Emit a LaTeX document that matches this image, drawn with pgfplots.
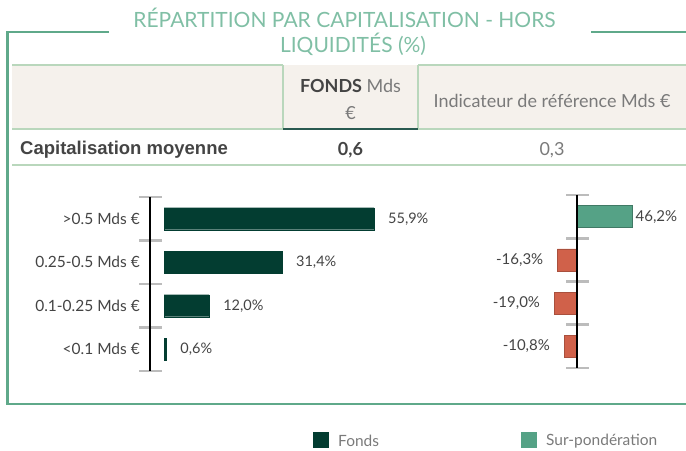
\documentclass[border=0pt]{standalone}
\usepackage{pgfplots}
\pgfplotsset{compat=1.18}
\usepackage{fontspec}
\setmainfont{Lato}
\newfontfamily\arialf{Liberation Sans}
\definecolor{framec}{HTML}{5FA98A}
\definecolor{titlec}{HTML}{80BFA5}
\definecolor{hdrbg}{HTML}{F5F1EC}
\definecolor{cellline}{HTML}{B9D7BC}
\definecolor{darkgreen}{HTML}{033D31}
\definecolor{midgreen}{HTML}{55A286}
\definecolor{orangec}{HTML}{D0614A}
\definecolor{orangeb}{HTML}{A9503D}
\definecolor{txt}{HTML}{444444}
\definecolor{lighttxt}{HTML}{7A7A7A}
\definecolor{sepgray}{RGB}{188,188,188}
\pgfplotsset{
  capbar/.style={
    scale only axis, ymin=-0.5, ymax=3.5, y dir=reverse, clip=false,
    axis lines=none,
    /pgf/number format/assume math mode=true,
    xbar, bar width=22bp, bar shift=0pt, point meta=x,
    nodes near coords={\pgfmathprintnumber[fixed,fixed zerofill,precision=1,use comma]{\pgfplotspointmeta}\%},
    every node near coord/.append style={inner sep=0pt, text=txt},
  }
}
\begin{document}
\begin{tikzpicture}[x=1bp,y=1bp]
\path[use as bounding box] (0,0) rectangle (686,451);
% frame
\draw[framec, line width=2.2bp] (109,419) -- (7.5,419) -- (7.5,47) -- (686,47);
\draw[framec, line width=2.2bp] (591,419) -- (686,419);
% title
\node[titlec, anchor=base, inner sep=0, font=\fontsize{21bp}{24bp}\selectfont] at (344.5,423) {RÉPARTITION PAR CAPITALISATION - HORS};
\node[titlec, anchor=base, inner sep=0, font=\fontsize{21bp}{24bp}\selectfont] at (353,398) {LIQUIDITÉS (\%)};
% header
\fill[hdrbg] (12,386) rectangle (686,322);
\draw[cellline, line width=1.6bp] (12,386) -- (283,386);
\draw[cellline, line width=1.6bp] (418,386) -- (686,386);
\draw[cellline, line width=1.6bp] (283,386) -- (283,322);
\draw[cellline, line width=1.6bp] (418,386) -- (418,322);
\draw[cellline, line width=1.6bp] (12,322) -- (283,322);
\draw[cellline, line width=1.6bp] (418,322) -- (686,322);
\draw[darkgreen!85!white, line width=2bp] (283,322) -- (418,322);
\draw[cellline, line width=2bp] (12,286) -- (686,286);
\node[font=\fontsize{18bp}{20bp}\selectfont] at (350.5,365) {\textcolor{txt}{\textbf{FONDS}} \textcolor{lighttxt}{Mds}};
\node[lighttxt, font=\fontsize{18bp}{20bp}\selectfont] at (350.5,338) {€};
\node[lighttxt, font=\fontsize{18bp}{20bp}\selectfont] at (552,350) {Indicateur de référence Mds €};
\node[txt, anchor=west, inner sep=0, font=\arialf\bfseries\fontsize{18.5bp}{20bp}\selectfont] at (20,301) {Capitalisation moyenne};
\node[txt, font=\bfseries\fontsize{18bp}{20bp}\selectfont] at (350.5,301) {0,6};
\node[lighttxt, font=\fontsize{18bp}{20bp}\selectfont] at (552,301) {0,3};
% axis tick decorations (category separators)
\draw[sepgray, line width=2.6bp] (139,254) -- (162,254);
\draw[sepgray, line width=2.6bp] (139,210.5) -- (162,210.5);
\draw[sepgray, line width=2.6bp] (139,167) -- (162,167);
\draw[sepgray, line width=2.6bp] (139,123.5) -- (162,123.5);
\draw[sepgray, line width=2.6bp] (139,80) -- (162,80);
\draw[sepgray, line width=2.6bp] (566,256) -- (589,256);
\draw[sepgray, line width=2.6bp] (566,212.75) -- (589,212.75);
\draw[sepgray, line width=2.6bp] (566,169.5) -- (589,169.5);
\draw[sepgray, line width=2.6bp] (566,126.25) -- (589,126.25);
\draw[sepgray, line width=2.6bp] (566,83) -- (589,83);
% left chart
\begin{axis}[capbar, at={(150bp,80bp)}, anchor=south west,
  width=239.4bp, height=174bp, xmin=-3.73, xmax=60,
  every node near coord/.append style={anchor=west, xshift=14bp, font=\fontsize{14.5bp}{16bp}\selectfont}]
\addplot[fill=darkgreen, draw=darkgreen] coordinates {(55.9,0) (31.4,1) (12.0,2) (0.6,3)};
\draw[black, line width=2.5bp] (axis cs:-3.73,-0.5) -- (axis cs:-3.73,3.5);
\node[anchor=east, text=txt, inner sep=0, xshift=-10bp, font=\fontsize{15.5bp}{16bp}\selectfont] at (axis cs:-3.73,0) {>0.5 Mds €};
\node[anchor=east, text=txt, inner sep=0, xshift=-10bp, font=\fontsize{15.5bp}{16bp}\selectfont] at (axis cs:-3.73,1) {0.25-0.5 Mds €};
\node[anchor=east, text=txt, inner sep=0, xshift=-10bp, font=\fontsize{15.5bp}{16bp}\selectfont] at (axis cs:-3.73,2) {0.1-0.25 Mds €};
\node[anchor=east, text=txt, inner sep=0, xshift=-10bp, font=\fontsize{15.5bp}{16bp}\selectfont] at (axis cs:-3.73,3) {<0.1 Mds €};
\end{axis}
% right chart
\begin{axis}[capbar, at={(547bp,83bp)}, anchor=south west,
  width=96bp, height=173bp, xmin=-25, xmax=55,
  every node near coord/.append style={font=\fontsize{15bp}{16bp}\selectfont}]
\addplot[fill=midgreen, draw=midgreen!75!black, every node near coord/.append style={anchor=west, xshift=3bp}] coordinates {(46.2,0)};
\addplot[fill=orangec, draw=orangeb, every node near coord/.append style={anchor=east, xshift=-14bp}] coordinates {(-16.3,1) (-19.0,2) (-10.8,3)};
\draw[black, line width=2.5bp] (axis cs:0,-0.5) -- (axis cs:0,3.5);
\end{axis}
% legend
\fill[darkgreen] (313,3) rectangle (329,19);
\node[lighttxt, anchor=west, inner sep=0, font=\fontsize{15.5bp}{18bp}\selectfont] at (338,10) {Fonds};
\fill[midgreen] (521,3) rectangle (537,19);
\node[lighttxt, anchor=west, inner sep=0, font=\fontsize{15.5bp}{18bp}\selectfont] at (546,10) {Sur-pondération};
\end{tikzpicture}
\end{document}
